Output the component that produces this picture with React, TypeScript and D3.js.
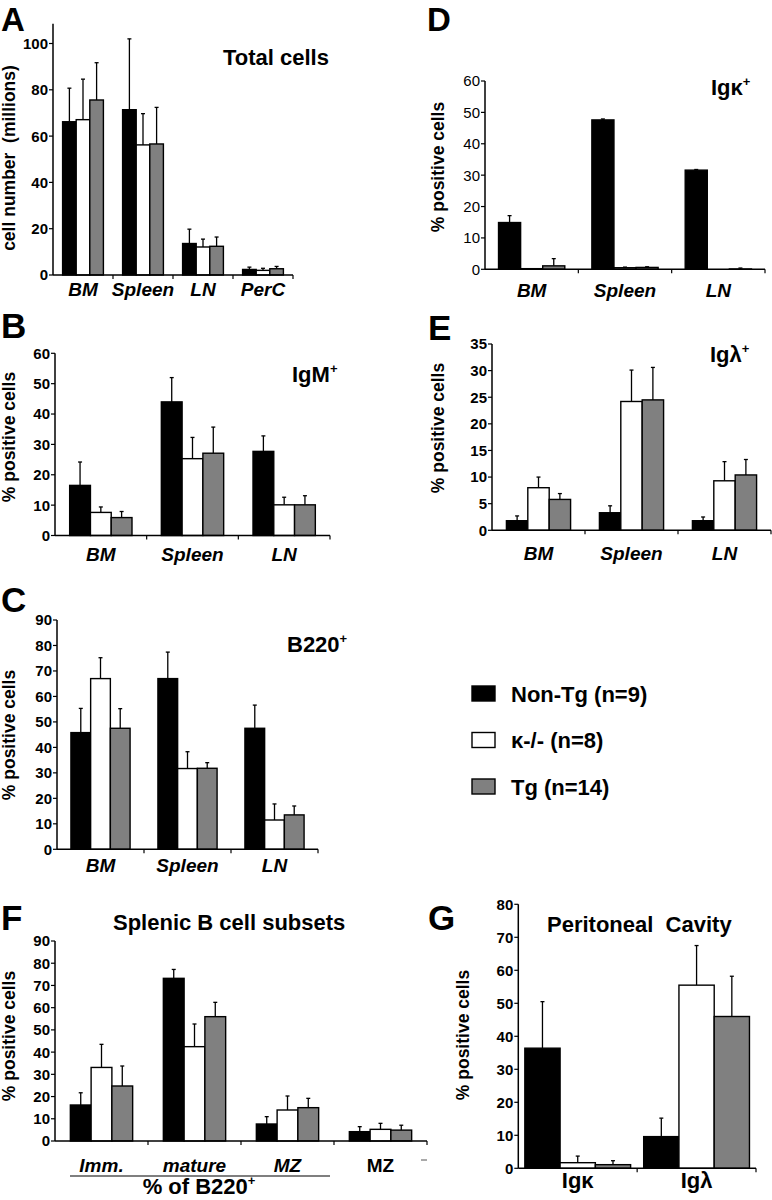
import React from "react";
import * as d3 from "d3";

const FONT = "'Liberation Sans', Arial, Helvetica, sans-serif";

// ---------- series ----------
const seriesNames = ["Non-Tg (n=9)", "κ-/- (n=8)", "Tg (n=14)"];
const seriesColors = ["#000000", "#ffffff", "#808080"];

// ---------- A: Total cells ----------
const totalCats = ["BM", "Spleen", "LN", "PerC"];
const totalNonTg = [66.2, 71.4, 13.6, 2.4];
const totalNonTgErr = [14.5, 30.6, 6.2, 1.0];
const totalKo = [67.1, 56.2, 12.1, 2.0];
const totalKoErr = [17.5, 13.5, 3.4, 0.9];
const totalTg = [75.6, 56.6, 12.4, 2.7];
const totalTgErr = [16.1, 15.8, 4.0, 1.0];
const totalTicks = [0, 20, 40, 60, 80, 100];

// ---------- B: IgM+ ----------
const tissueCats = ["BM", "Spleen", "LN"];
const igmNonTg = [16.5, 44.0, 27.7];
const igmNonTgErr = [7.7, 8.0, 5.1];
const igmKo = [7.6, 25.3, 10.1];
const igmKoErr = [1.8, 7.0, 2.5];
const igmTg = [5.9, 27.1, 10.1];
const igmTgErr = [2.0, 8.6, 3.0];
const igmTicks = [0, 10, 20, 30, 40, 50, 60];

// ---------- C: B220+ ----------
const b220NonTg = [45.8, 67.0, 47.5];
const b220NonTgErr = [9.5, 10.4, 9.1];
const b220Ko = [67.0, 31.7, 11.5];
const b220KoErr = [8.2, 6.6, 6.3];
const b220Tg = [47.5, 31.8, 13.5];
const b220TgErr = [7.7, 2.2, 3.5];
const b220Ticks = [0, 10, 20, 30, 40, 50, 60, 70, 80, 90];

// ---------- D: Igκ+ ----------
const kappaNonTg = [14.9, 47.6, 31.6];
const kappaNonTgErr = [2.2, 0.3, 0.2];
const kappaKo = [0.2, 0.5, 0.0];
const kappaKoErr = [0, 0.2, 0];
const kappaTg = [1.1, 0.6, 0.1];
const kappaTgErr = [2.3, 0.2, 0.3];
const kappaTicks = [0, 10, 20, 30, 40, 50, 60];

// ---------- E: Igλ+ ----------
const lambdaNonTg = [1.8, 3.3, 1.8];
const lambdaNonTgErr = [0.9, 1.3, 0.7];
const lambdaKo = [8.0, 24.2, 9.3];
const lambdaKoErr = [2.0, 5.9, 3.6];
const lambdaTg = [5.8, 24.5, 10.4];
const lambdaTgErr = [1.1, 6.1, 2.9];
const lambdaTicks = [0, 5, 10, 15, 20, 25, 30, 35];

// ---------- F: Splenic B cell subsets ----------
const subsetCats = ["Imm.", "mature", "MZ", "MZ"];
const subsetItalic = [true, true, true, false];
const subsetNonTg = [16.2, 73.2, 7.65, 4.2];
const subsetNonTgErr = [5.5, 4.0, 3.3, 2.25];
const subsetKo = [33.1, 42.45, 13.95, 5.25];
const subsetKoErr = [10.4, 10.2, 6.3, 2.7];
const subsetTg = [24.75, 55.95, 15.0, 4.9];
const subsetTgErr = [9.0, 6.45, 4.2, 2.2];
const subsetTicks = [0, 10, 20, 30, 40, 50, 60, 70, 80, 90];

// ---------- G: Peritoneal cavity ----------
const perCats = ["Igκ", "Igλ"];
const perNonTg = [36.4, 9.6];
const perNonTgErr = [14.1, 5.6];
const perKo = [1.7, 55.5];
const perKoErr = [2.0, 12.0];
const perTg = [1.1, 46.0];
const perTgErr = [1.2, 12.2];
const perTicks = [0, 10, 20, 30, 40, 50, 60, 70, 80];

type PanelProps = {
  cats: string[];
  values: number[][];
  errors: number[][];
  ticks: number[];
  xRange: [number, number];
  yRange: [number, number];
  yMax: number;
  axisTop?: number;
  pad: number;
  tickBold?: boolean;
  catY: number;
  catSize?: number;
  catItalic?: boolean[];
};

function Panel(p: PanelProps) {
  const idx = p.cats.map((_, i) => String(i));
  const x = d3
    .scaleBand<string>()
    .domain(idx)
    .range(p.xRange)
    .paddingInner(p.pad)
    .paddingOuter(p.pad / 2);
  const xs = d3
    .scaleBand<string>()
    .domain(p.values.map((_, i) => String(i)))
    .range([0, x.bandwidth()]);
  const y = d3.scaleLinear().domain([0, p.yMax]).range(p.yRange);
  const x0 = p.xRange[0];
  const x1 = p.xRange[1];
  const y0 = y(0);
  const step = x.step();
  const bounds = d3.range(1, p.cats.length + 1).map((i) => x0 + i * step);
  return (
    <g>
      {p.values.map((ser, s) =>
        ser.map((v, i) => {
          const bx = (x(String(i)) as number) + (xs(String(s)) as number);
          const w = xs.bandwidth();
          const e = p.errors[s][i];
          const cx = bx + w / 2;
          return (
            <g key={`b${s}-${i}`}>
              {e > 0 && (
                <g stroke="#000" strokeWidth={1.3}>
                  <line x1={cx} x2={cx} y1={y(v)} y2={y(v + e)} />
                  <line x1={cx - 2} x2={cx + 2} y1={y(v + e)} y2={y(v + e)} />
                </g>
              )}
              <rect
                x={bx}
                y={y(v)}
                width={w}
                height={Math.max(0, y0 - y(v))}
                fill={seriesColors[s]}
                stroke="#000"
                strokeWidth={1.4}
              />
            </g>
          );
        })
      )}
      <line x1={x0} x2={x0} y1={y0} y2={y(p.axisTop ?? p.yMax)} stroke="#000" strokeWidth={1.5} />
      <line x1={x0} x2={x1} y1={y0} y2={y0} stroke="#000" strokeWidth={1.5} />
      {bounds.map((b, i) => (
        <line key={`bt${i}`} x1={b} x2={b} y1={y0} y2={y0 + 4} stroke="#000" strokeWidth={1.2} />
      ))}
      {p.ticks.map((t) => (
        <g key={`t${t}`}>
          <line x1={x0 - 4} x2={x0} y1={y(t)} y2={y(t)} stroke="#000" strokeWidth={1.2} />
          <text
            x={x0 - 5}
            y={y(t)}
            dy="0.36em"
            textAnchor="end"
            fontSize={15}
            fontWeight={p.tickBold === false ? "normal" : "bold"}
            fontFamily={FONT}
          >
            {t}
          </text>
        </g>
      ))}
      {p.cats.map((c, i) => (
        <text
          key={`c${i}`}
          x={(x(String(i)) as number) + x.bandwidth() / 2}
          y={p.catY}
          textAnchor="middle"
          fontSize={p.catSize ?? 19}
          fontWeight="bold"
          fontStyle={p.catItalic ? (p.catItalic[i] ? "italic" : "normal") : "italic"}
          fontFamily={FONT}
        >
          {c}
        </text>
      ))}
    </g>
  );
}

function Letter({ x, y, t, size = 35 }: { x: number; y: number; t: string; size?: number }) {
  return (
    <text x={x} y={y} fontSize={size} fontWeight="bold" fontFamily={FONT}>
      {t}
    </text>
  );
}

function YLabel({ x, y, t }: { x: number; y: number; t: string }) {
  return (
    <text
      transform={`translate(${x},${y}) rotate(-90)`}
      textAnchor="middle"
      fontSize={17.5}
      fontWeight="bold"
      fontFamily={FONT}
      style={{ whiteSpace: "pre" }}
    >
      {t}
    </text>
  );
}

function Title({ x, y, t, sup }: { x: number; y: number; t: string; sup?: string }) {
  return (
    <text x={x} y={y} fontSize={22} fontWeight="bold" fontFamily={FONT} style={{ whiteSpace: "pre" }}>
      {t}
      {sup && (
        <tspan fontSize={13} dy={-9}>
          {sup}
        </tspan>
      )}
    </text>
  );
}

export default function App() {
  return (
    <svg
      width={772}
      height={1200}
      viewBox="0 0 772 1200"
      style={{ position: "absolute", left: 0, top: 0, background: "#fff" }}
    >
      <rect x={0} y={0} width={772} height={1200} fill="#fff" />

      {/* A */}
      <Letter x={1} y={31} t="A" size={33} />
      <YLabel x={15} y={158} t="cell number  (millions)" />
      <Title x={223} y={65} t="Total cells" />
      <Panel
        cats={totalCats}
        values={[totalNonTg, totalKo, totalTg]}
        errors={[totalNonTgErr, totalKoErr, totalTgErr]}
        ticks={totalTicks}
        xRange={[53, 293]}
        yRange={[275, 43.5]}
        yMax={100}
        axisTop={108.5}
        pad={0.32}
        catY={296}
      />

      {/* B */}
      <Letter x={1} y={338} t="B" />
      <YLabel x={15} y={437} t="% positive cells" />
      <Title x={292} y={382} t="IgM" sup="+" />
      <Panel
        cats={tissueCats}
        values={[igmNonTg, igmKo, igmTg]}
        errors={[igmNonTgErr, igmKoErr, igmTgErr]}
        ticks={igmTicks}
        xRange={[55, 330]}
        yRange={[535.5, 353.3]}
        yMax={60}
        pad={0.32}
        catY={561}
      />

      {/* C */}
      <Letter x={1} y={612} t="C" />
      <YLabel x={15} y={735} t="% positive cells" />
      <Title x={287} y={652} t="B220" sup="+" />
      <Panel
        cats={tissueCats}
        values={[b220NonTg, b220Ko, b220Tg]}
        errors={[b220NonTgErr, b220KoErr, b220TgErr]}
        ticks={b220Ticks}
        xRange={[57, 318]}
        yRange={[849.3, 620]}
        yMax={90}
        pad={0.32}
        catY={872}
      />

      {/* D */}
      <Letter x={427} y={31} t="D" size={33} />
      <YLabel x={444} y={167} t="% positive cells" />
      <Title x={711} y={95} t="Igκ" sup="+" />
      <Panel
        cats={tissueCats}
        values={[kappaNonTg, kappaKo, kappaTg]}
        errors={[kappaNonTgErr, kappaKoErr, kappaTgErr]}
        ticks={kappaTicks}
        xRange={[485, 765]}
        yRange={[269.3, 81]}
        yMax={60}
        pad={0.29}
        tickBold={false}
        catY={297}
      />

      {/* E */}
      <Letter x={428} y={340} t="E" />
      <YLabel x={444} y={428} t="% positive cells" />
      <Title x={710} y={362} t="Igλ" sup="+" />
      <Panel
        cats={tissueCats}
        values={[lambdaNonTg, lambdaKo, lambdaTg]}
        errors={[lambdaNonTgErr, lambdaKoErr, lambdaTgErr]}
        ticks={lambdaTicks}
        xRange={[492, 771]}
        yRange={[530.3, 344]}
        yMax={35}
        pad={0.31}
        catY={560}
      />

      {/* Legend */}
      {seriesNames.map((n, i) => (
        <g key={n}>
          <rect
            x={472}
            y={686 + i * 46.5}
            width={23}
            height={15}
            fill={seriesColors[i]}
            stroke="#000"
            strokeWidth={1.4}
          />
          <text x={511} y={701.5 + i * 46.5} fontSize={22} fontWeight="bold" fontFamily={FONT}>
            {n}
          </text>
        </g>
      ))}

      {/* F */}
      <Letter x={1} y={930} t="F" />
      <YLabel x={15} y={1036} t="% positive cells" />
      <Title x={113} y={930} t="Splenic B cell subsets" />
      <Panel
        cats={subsetCats}
        values={[subsetNonTg, subsetKo, subsetTg]}
        errors={[subsetNonTgErr, subsetKoErr, subsetTgErr]}
        ticks={subsetTicks}
        xRange={[55, 427]}
        yRange={[1141, 941]}
        yMax={90}
        pad={0.33}
        catY={1172}
        catItalic={subsetItalic}
      />
      <line x1={70} x2={330} y1={1176} y2={1176} stroke="#000" strokeWidth={1.2} />
      <text x={199} y={1194} textAnchor="middle" fontSize={22} fontWeight="bold" fontFamily={FONT}>
        % of B220
        <tspan fontSize={13} dy={-9}>
          +
        </tspan>
      </text>
      <line x1={421} x2={427} y1={1160} y2={1160} stroke="#555" strokeWidth={1} />

      {/* G */}
      <Letter x={428} y={930} t="G" />
      <YLabel x={469} y={1035} t="% positive cells" />
      <Title x={547} y={932} t="Peritoneal  Cavity" />
      <Panel
        cats={perCats}
        values={[perNonTg, perKo, perTg]}
        errors={[perNonTgErr, perKoErr, perTgErr]}
        ticks={perTicks}
        xRange={[518.3, 756]}
        yRange={[1168.3, 904.3]}
        yMax={80}
        pad={0.11}
        catY={1188}
        catSize={22}
        catItalic={[false, false]}
      />
    </svg>
  );
}
